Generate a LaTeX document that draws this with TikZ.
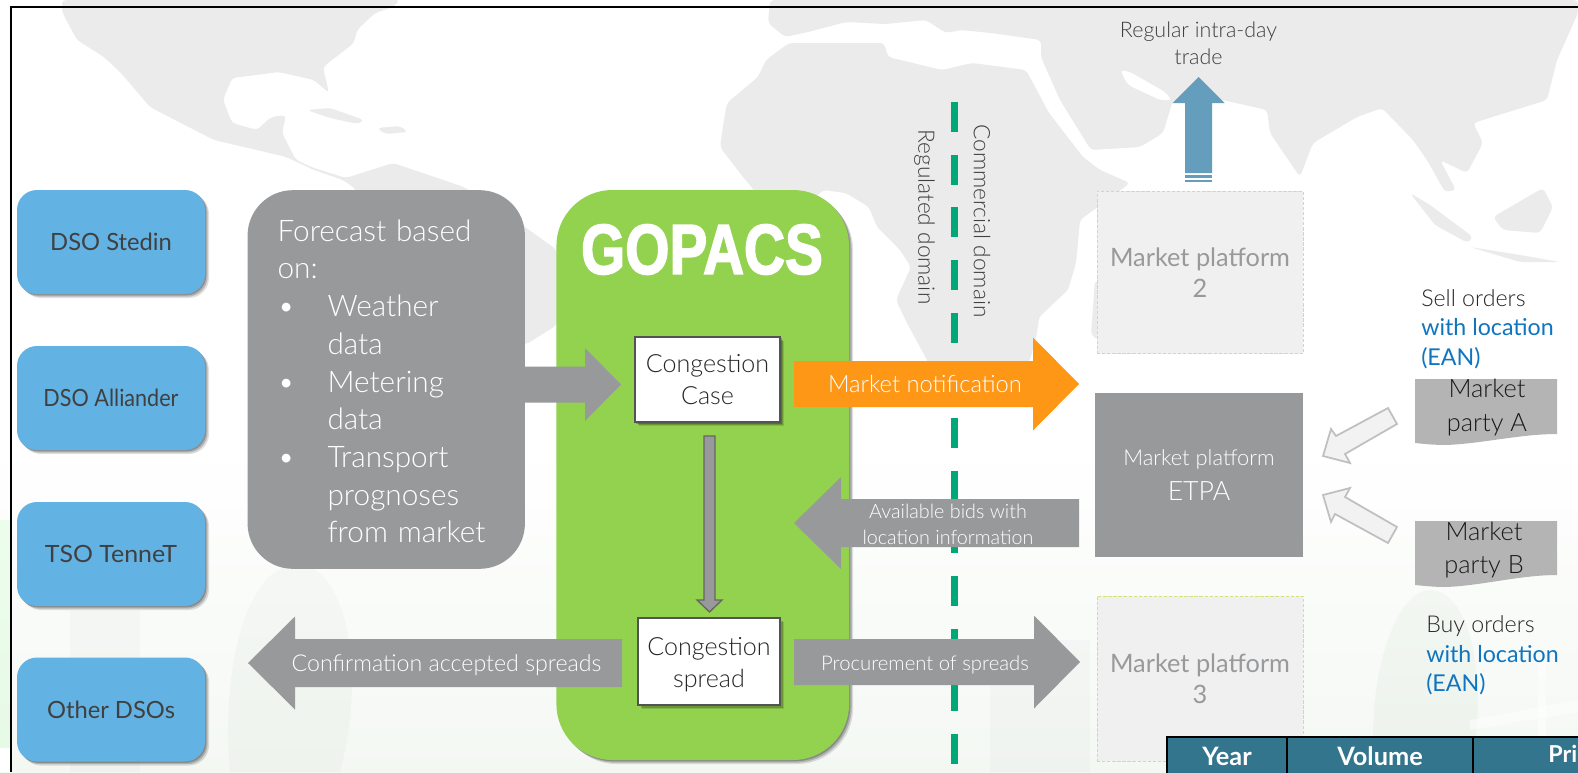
\documentclass[tikz,border=0pt]{standalone}
\usepackage{fontspec}
\usetikzlibrary{shadows,calc}
\setmainfont{Lato}[UprightFont=* Light,BoldFont=*]
\newfontfamily\regfont{Lato}
\newfontfamily\gofont{Liberation Sans}[BoldFeatures={FakeBold=2.5}]
\definecolor{mapc}{HTML}{EBEBEB}
\definecolor{blueb}{HTML}{62B2E4}
\definecolor{darkt}{HTML}{404040}
\definecolor{greyb}{HTML}{98999B}
\definecolor{greenb}{HTML}{93D24F}
\definecolor{orangeb}{HTML}{FF9716}
\definecolor{dashc}{HTML}{00A878}
\definecolor{palebox}{HTML}{F0F0F0}
\definecolor{dashbox}{HTML}{D7E07A}
\definecolor{partyc}{HTML}{B4B4B4}
\definecolor{hollowf}{HTML}{F2F2F2}
\definecolor{hollowd}{HTML}{BFBFBF}
\definecolor{upb}{HTML}{659DBD}
\definecolor{tablec}{HTML}{33758C}
\definecolor{linkb}{HTML}{0F75C0}
\definecolor{bgmid}{HTML}{EEF5F9}
\definecolor{bgbot}{HTML}{F4F8F3}
\newcommand{\harrow}[6]{\fill[#6] ($(#1)+(0,-#3)$) -- ($(#2)+(-#5,-#3)$) -- ($(#2)+(-#5,-#4)$) -- (#2) -- ($(#2)+(-#5,#4)$) -- ($(#2)+(-#5,#3)$) -- ($(#1)+(0,#3)$) -- cycle;}
\tikzset{
  softshadow/.style={
    drop shadow={shadow xshift=1pt,shadow yshift=-1pt,opacity=.22,fill=black},
    drop shadow={shadow xshift=2pt,shadow yshift=-2pt,opacity=.18,fill=black},
    drop shadow={shadow xshift=3pt,shadow yshift=-3pt,opacity=.12,fill=black}},
  dsobox/.style={fill=blueb,rounded corners=15pt,minimum width=141pt,minimum height=78pt,inner sep=0pt,
    text=darkt,font=\regfont\fontsize{17.8}{21}\selectfont,softshadow},
  casebox/.style={fill=white,draw=darkt!90,line width=1.6pt,inner sep=0pt,align=center,text=black!85,
    font=\fontsize{18.8}{24.5}\selectfont,softshadow},
  mkbox/.style={fill=palebox,draw=dashbox,dash pattern=on 2.5pt off 1.3pt,line width=.6pt,minimum width=154.5pt,inner sep=0pt,
    align=center,text=greyb,font=\regfont\fontsize{19}{23.5}\selectfont},
  arrowtext/.style={text=white,align=center,inner sep=0pt},
  hollow/.style={fill=hollowf,draw=hollowd,line width=1.3pt,line join=miter},
  ordertext/.style={anchor=west,align=left,inner sep=0pt,text=black!85,font=\fontsize{17.4}{22.3}\selectfont},
  domaintext/.style={rotate=-90,inner sep=0pt,text=darkt,font=\fontsize{17}{20}\selectfont},
  headcell/.style={fill=tablec,draw=black,line width=1.5pt},
  headtext/.style={text=white,inner sep=0pt,font=\regfont\bfseries\fontsize{19}{22}\selectfont},
  partylabel/.style={inner sep=0pt,align=center,text=black!90,font=\fontsize{19}{25}\selectfont},
}
\begin{document}
\begin{tikzpicture}[x=0.75pt,y=-0.75pt]
\useasboundingbox (0,0) rectangle (1578,772);
\clip (0,0) rectangle (1578,772);
% background
\fill[white] (0,0) rectangle (1578,772);
\shade[top color=white,middle color=bgmid,bottom color=bgbot] (0,440) rectangle (1578,772);
\fill[green!25!white,opacity=.25] (0,520) rectangle (11,748);
\fill[white] (0,748) rectangle (11,772);
% faint scenery
\fill[green!30!black,opacity=.025] (230,772) .. controls (220,660) and (250,560) .. (300,565) .. controls (350,570) and (365,680) .. (340,772) -- cycle;
\fill[blue!30!black,opacity=.02] (70,610) rectangle (140,772);
\fill[blue!30!black,opacity=.02] (990,640) rectangle (1090,772);
\fill[green!40!black,opacity=.03] (1375,772) .. controls (1365,680) and (1395,590) .. (1430,590) .. controls (1470,590) and (1490,680) .. (1470,772) -- cycle;
\fill[white,opacity=.5] (1538,660) rectangle (1546,772);
\fill[white,opacity=.5] (1470,720) -- (1578,700) -- (1578,712) -- (1470,730) -- cycle;
% world map
\begin{scope}[mapc,rounded corners=3pt]
\fill (62,0) -- (62,12) -- (77,40) -- (104,57) -- (121,73) -- (150,107) -- (175,120) -- (214,140) -- (257,150) -- (286,157) -- (314,170) -- (343,180)
  -- (357,190) -- (300,200) -- (525,345) -- (557,325) -- (557,250) -- (525,227) -- (464,187) -- (393,163) -- (346,178) -- (314,168) -- (296,160)
  -- (282,133) -- (286,115) -- (271,117) -- (257,130) -- (232,123) -- (223,100) -- (232,78) -- (279,72) -- (314,80) -- (329,93) -- (323,67) -- (354,43) -- (357,30) -- (375,13) -- (393,7) -- (400,0) -- cycle;
\fill (307,110) -- (330,108) -- (364,120) -- (358,124) -- (330,118) -- cycle;
\fill (377,128) -- (400,126) -- (408,132) -- (385,134) -- cycle;
\fill (770,0) -- (768,23) -- (785,37) -- (808,32) -- (846,22) -- (885,24) -- (926,20) -- (946,33) -- (961,30) -- (991,33) -- (1041,40) -- (1041,57) -- (1060,100) -- (1091,150)
  -- (1140,147) -- (1163,133) -- (1173,100) -- (1223,100) -- (1267,110) -- (1270,133) -- (1300,177) -- (1313,143) -- (1357,117) -- (1382,108) -- (1413,140) -- (1427,160) -- (1445,192) -- (1456,190) -- (1440,160) -- (1467,173) -- (1483,143) -- (1473,123) -- (1547,100) -- (1557,60) -- (1578,13) -- (1578,0) -- cycle;
\fill (789,43) -- (766,60) -- (758,77) -- (727,103) -- (724,120) -- (720,147) -- (743,177) -- (754,190) -- (760,250) -- (823,190) -- (846,193) -- (869,207) -- (877,227) -- (900,250) -- (911,267) -- (896,300) -- (907,323) -- (927,360) -- (945,400) -- (1000,400) -- (1030,360) -- (1037,333) -- (1039,317) -- (1068,290) -- (1076,263) -- (1080,220) -- (1130,183) -- (1100,170) -- (1083,157) -- (1049,113) -- (1026,70) -- (972,63) -- (942,70) -- (888,57) -- (884,43) -- (831,43) -- cycle;
\fill (1410,193) -- (1430,205) -- (1473,237) -- (1468,243) -- (1435,225) -- cycle;
\fill (1493,217) -- (1543,188) -- (1553,207) -- (1540,233) -- (1503,230) -- cycle;
\fill (1470,247) -- (1520,255) -- (1560,262) -- (1520,262) -- cycle;
\fill (1095,280) -- (1100,285) -- (1098,340) -- (1091,335) -- cycle;
\fill[white] (1120,70) -- (1130,72) -- (1165,92) -- (1172,100) -- (1160,100) -- (1128,85) -- cycle;
\end{scope}
% frame
\draw[black,line width=1.6pt] (11,772) -- (11,7) -- (1578,7);
% regulated/commercial divider
\coordinate (dtop) at (954.5,102);
\coordinate (dbot) at (954.5,764);
\draw[dashc,line width=5.25pt,dash pattern=on 22.5pt off 17pt] (dtop) -- (dbot);
\node[domaintext] (commercial) at (982,221) {Commercial domain};
\node[domaintext] (regulated) at (924.5,217) {Regulated domain};
% DSO boxes
\node[dsobox] (stedin) at (111,242) {DSO Stedin};
\node[dsobox] (alliander) at (111,398) {\scalebox{.91}[1]{DSO Alliander}};
\node[dsobox] (tennet) at (111,554) {\scalebox{1.05}[1]{TSO TenneT}};
\node[dsobox] (other) at (111,709.5) {Other DSOs};
% GOPACS
\node[fill=greenb,rounded corners=42pt,minimum width=219.5pt,minimum height=427.5pt,inner sep=0pt,softshadow] (gopacs) at (702.75,475) {};
\node[text=white,inner sep=0pt,font=\gofont\bfseries\fontsize{53}{53}\selectfont] (logo) at (702,249.5) {\scalebox{0.803}[1]{GOPACS}};
% forecast
\node[fill=greyb,rounded corners=34pt,minimum width=208pt,minimum height=284pt,inner xsep=22.5pt,inner ysep=0pt,text width=163pt,align=left,
  text=white,font=\fontsize{22.3}{28.3}\selectfont] (forecast) at (386.25,379.5)
  {\rule{0pt}{19pt}Forecast based\\on:\\\makebox[37.5pt][l]{•}Weather\\\hspace*{37.5pt}data\\\makebox[37.5pt][l]{•}Metering\\\hspace*{37.5pt}data\\\makebox[37.5pt][l]{•}Transport\\\hspace*{37.5pt}prognoses\\\hspace*{37.5pt}from market};
% congestion boxes
\node[casebox,minimum width=109pt,minimum height=64pt] (case) at (707.5,379.5) {Congestion\\Case};
\node[casebox,minimum width=106.5pt,minimum height=65pt,text width=100pt] (spread) at (709,661.5) {\rule{0pt}{18.5pt}Congestion\\spread};
% market platforms
\node[mkbox,minimum height=122pt] (mp2) at (1200,272.5) {Market platform\\2};
\node[mkbox,minimum height=123.75pt] (mp3) at (1200,678.5) {Market platform\\3};
\node[fill=greyb,minimum width=155.5pt,minimum height=123pt,inner sep=0pt,align=center,text=white] (etpa) at (1199,475)
  {{\fontsize{16.4}{20}\selectfont Market platform}\\[8pt]{\fontsize{20}{24}\selectfont ETPA}};
% block arrows
\coordinate (fa) at (525,384.5); \coordinate (fb) at (621,384.5);
\harrow{fa}{fb}{18}{36.5}{36}{greyb}
\coordinate (na) at (794,384); \coordinate (nb) at (1079,384);
\harrow{na}{nb}{23}{46.5}{46}{orangeb}
\node[arrowtext,font=\fontsize{17.8}{20}\selectfont] (notif) at (925,384) {Market notification};
\coordinate (aa) at (1079,523); \coordinate (ab) at (794,523);
\harrow{aa}{ab}{24}{46}{-47}{greyb}
\node[arrowtext,font=\fontsize{14.8}{19.5}\selectfont] (avail) at (948,524) {Available bids with\\location information};
\coordinate (pa) at (794,662); \coordinate (pb) at (1080,662);
\harrow{pa}{pb}{23}{46.5}{46}{greyb}
\node[arrowtext,font=\fontsize{15.2}{18}\selectfont] (proc) at (925,664.5) {Procurement of spreads};
\coordinate (ca) at (622,663); \coordinate (cb) at (248,663);
\harrow{ca}{cb}{24}{46.5}{-47}{greyb}
\node[arrowtext,font=\fontsize{17.4}{20}\selectfont] (conf) at (446.5,665) {Confirmation accepted spreads};
% down arrow
\coordinate (da) at (709.5,436); \coordinate (db) at (709.5,612);
\draw[fill=greyb,draw=black!60,line width=1pt,line join=miter]
  ($(da)+(-5.5,0)$) -- ($(da)+(5.5,0)$) -- ($(db)+(5.5,-12)$) -- ($(db)+(12.5,-12)$) -- (db) -- ($(db)+(-12.5,-12)$) -- ($(db)+(-5.5,-12)$) -- cycle;
% up arrow
\coordinate (ua) at (1198.5,173); \coordinate (ub) at (1198.5,77);
\fill[upb] ($(ua)+(-13.5,0)$) -- ($(ua)+(13.5,0)$) -- ($(ub)+(13.5,26)$) -- ($(ub)+(26,26)$) -- (ub) -- ($(ub)+(-26,26)$) -- ($(ub)+(-13.5,26)$) -- cycle;
\fill[upb] ($(ua)+(-13.5,2)$) rectangle ($(ua)+(13.5,5)$);
\fill[upb] ($(ua)+(-13.5,6.5)$) rectangle ($(ua)+(13.5,9)$);
\node[align=center,inner sep=0pt,text=darkt,font=\fontsize{16.1}{20}\selectfont] (intraday) at (1198.5,43.5) {Regular intra-day\\trade};
% market parties
\fill[partyc] (1415,379) -- (1557,379) -- (1557,434) .. controls (1520,434) and (1480,444) .. (1445,445) .. controls (1435,445) and (1425,444) .. (1415,443) -- cycle;
\node[partylabel] (partyA) at (1487,407.5) {Market\\party A};
\fill[partyc] (1415,521) -- (1557,521) -- (1557,575) .. controls (1520,575) and (1480,586) .. (1445,587) .. controls (1435,587) and (1425,586) .. (1415,585) -- cycle;
\node[partylabel] (partyB) at (1484,550) {Market\\party B};
% hollow arrows
\draw[hollow] (1388,408) -- (1397,424) -- (1345,454) -- (1350,463) -- (1323,456) -- (1331,429) -- (1336,436) -- cycle;
\draw[hollow] (1397,527) -- (1388,543) -- (1335,514) -- (1331,522) -- (1323,495) -- (1350,488) -- (1345,497) -- cycle;
% order labels
\node[ordertext] (sell) at (1421,329) {Sell orders\\{\regfont\color{linkb}with location}\\{\regfont\color{linkb}(EAN)}};
\node[ordertext] (buy) at (1426,655.5) {Buy orders\\{\regfont\color{linkb}with location}\\{\regfont\color{linkb}(EAN)}};
% table
\draw[headcell] (1167,737) rectangle (1287,790);
\draw[headcell] (1287,737) rectangle (1473,790);
\draw[headcell] (1473,737) rectangle (1600,790);
\node[headtext] (year) at (1227,756) {Year};
\node[headtext] (volume) at (1380,756) {Volume};
\node[headtext,anchor=base west,font=\regfont\bfseries\fontsize{17.5}{22}\selectfont] (price) at (1548,762) {Pri};
\end{tikzpicture}
\end{document}
